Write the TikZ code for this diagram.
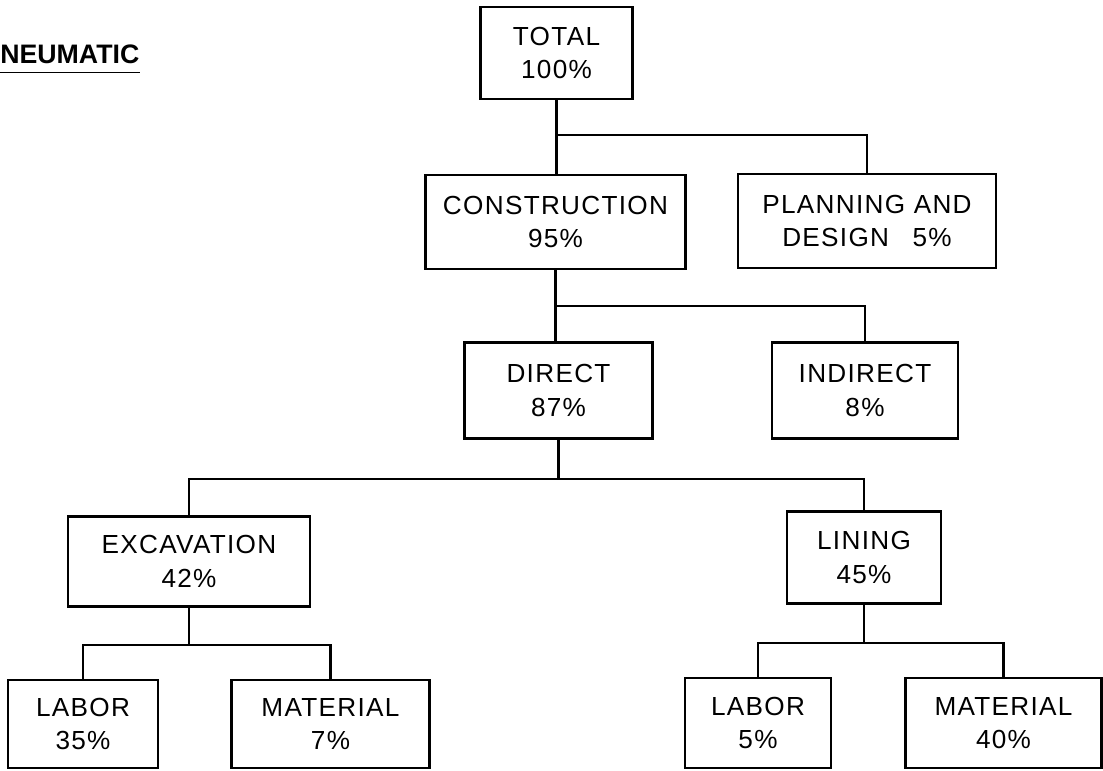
\documentclass[tikz,border=0pt]{standalone}
\usepackage{fontspec}
\setmainfont{Liberation Sans}[LetterSpace=5]
\newfontfamily\ttlfont{Liberation Sans}[LetterSpace=0]
\usepackage{tikz}
\tikzset{
  blk/.style={draw, line width=2pt, align=center, inner sep=0pt, font=\fontsize{18.6}{24}\selectfont},
  ln/.style={line width=2pt},
  ttl/.style={font=\ttlfont\bfseries\fontsize{19}{22}\selectfont, inner sep=0pt, anchor=base west}
}

\begin{document}
\begin{tikzpicture}[x=0.025cm, y=-0.025cm]
\useasboundingbox (0,0) rectangle (1103,770);
% title
\node[ttl] (ttl) at (0,63) {NEUMATIC};
\draw[line width=1.2pt] ([yshift=-0.24cm]ttl.base west) -- ([yshift=-0.24cm]ttl.base east);

% top levels
\node[blk, minimum width=3.78cm, minimum height=2.3cm] (total) at (556.5,53) {TOTAL\\100\%};
\node[blk, minimum width=6.48cm, minimum height=2.35cm] (cons) at (555.5,222) {CONSTRUCTION\\95\%};
\node[blk, minimum width=6.45cm, minimum height=2.35cm] (plan) at (867,221) {PLANNING AND\\DESIGN\hspace{0.9em}5\%};
\node[blk, minimum width=4.68cm, minimum height=2.38cm] (direct) at (558.5,390.5) {DIRECT\\87\%};
\node[blk, minimum width=4.65cm, minimum height=2.38cm] (indirect) at (865,390.5) {INDIRECT\\8\%};

% work items
\node[blk, minimum width=6.05cm, minimum height=2.23cm] (excav) at (189,561.5) {EXCAVATION\\42\%};
\node[blk, minimum width=3.85cm, minimum height=2.28cm] (lining) at (864,557.5) {LINING\\45\%};
\node[blk, minimum width=3.75cm, minimum height=2.2cm] (laborL) at (83,724) {LABOR\\35\%};
\node[blk, minimum width=4.93cm, minimum height=2.2cm] (matL) at (330.5,724) {MATERIAL\\7\%};
\node[blk, minimum width=3.65cm, minimum height=2.25cm] (laborR) at (758,723) {LABOR\\5\%};
\node[blk, minimum width=4.88cm, minimum height=2.25cm] (matR) at (1003.5,723) {MATERIAL\\40\%};

% junctions
\coordinate (j1) at (total.south |- 0,135);
\coordinate (j2) at (cons.south |- 0,306);
\coordinate (j3) at (direct.south |- 0,479);
\coordinate (j4) at (excav.south |- 0,645);
\coordinate (j5) at (lining.south |- 0,643);

% connectors
\draw[ln] (total.south) -- (total.south |- cons.north);
\draw[ln] (j1) -| (plan.north);
\draw[ln] (cons.south) -- (cons.south |- direct.north);
\draw[ln] (j2) -| (indirect.north);
\draw[ln] (direct.south) -- (j3);
\draw[ln] (excav.north) |- (j3) -| (lining.north);
\draw[ln] (excav.south) -- (j4);
\draw[ln] (laborL.north) |- (j4) -| (matL.north);
\draw[ln] (lining.south) -- (j5);
\draw[ln] (laborR.north) |- (j5) -| (matR.north);
\end{tikzpicture}
\end{document}
